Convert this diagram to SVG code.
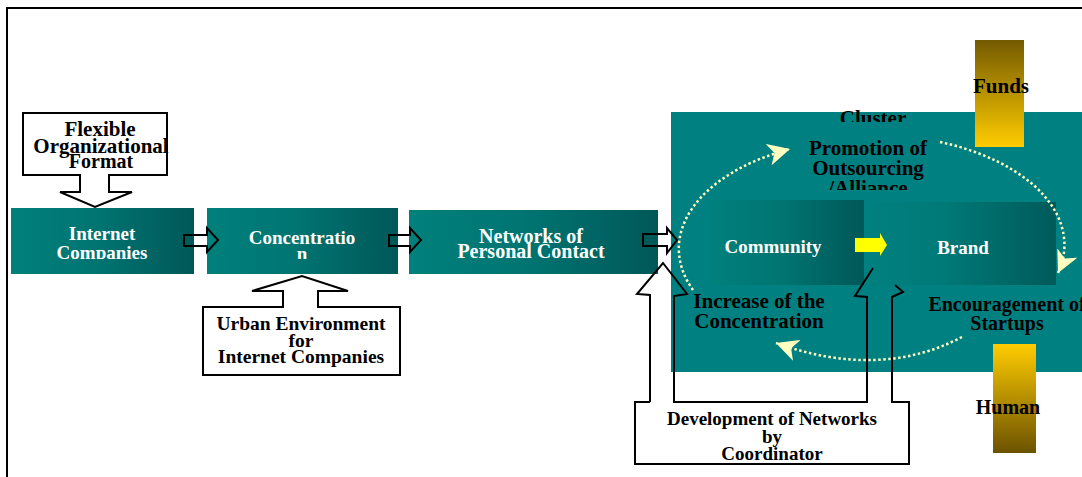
<svg xmlns="http://www.w3.org/2000/svg" width="1082" height="477" viewBox="0 0 1082 477">
<style>
.t{font-family:"Liberation Serif","Times New Roman",serif;font-weight:bold;text-anchor:middle;fill:#000}
.w{fill:#fff}
.ol{fill:none;stroke:#000;stroke-width:2;stroke-linejoin:miter}
.wb{fill:#fff;stroke:#000;stroke-width:2}
.dot{fill:none;stroke:#ffffc0;stroke-width:2.5;stroke-dasharray:2.5 2.5}
</style>
<defs>
<linearGradient id="bg" x1="0" y1="0" x2="1" y2="0">
<stop offset="0" stop-color="#00807c"/><stop offset="0.45" stop-color="#007572"/><stop offset="1" stop-color="#005858"/>
</linearGradient>
<linearGradient id="bg2" x1="0" y1="0" x2="1" y2="0">
<stop offset="0" stop-color="#008080"/><stop offset="0.4" stop-color="#007a78"/><stop offset="1" stop-color="#005a5a"/>
</linearGradient>
<linearGradient id="fund" x1="0" y1="0" x2="0" y2="1">
<stop offset="0" stop-color="#735a00"/><stop offset="1" stop-color="#ffcc00"/>
</linearGradient>
<linearGradient id="hum" x1="0" y1="0" x2="0" y2="1">
<stop offset="0" stop-color="#ffcc00"/><stop offset="1" stop-color="#6b5200"/>
</linearGradient>
<marker id="ah" markerUnits="userSpaceOnUse" viewBox="0 0 24 22" markerWidth="24" markerHeight="22" refX="22" refY="11" orient="auto">
<path d="M0,0 L22,11 L0,22 L6,11 Z" fill="#ffffc0"/>
</marker>
<clipPath id="c1"><rect x="0" y="200" width="200" height="59"/></clipPath>
<clipPath id="c2"><rect x="200" y="200" width="200" height="59"/></clipPath>
<clipPath id="c3"><rect x="780" y="100" width="200" height="22"/></clipPath>
<clipPath id="c4"><rect x="780" y="130" width="200" height="60"/></clipPath>
</defs>

<path d="M7,477 V8 H1082" fill="none" stroke="#000" stroke-width="2"/>

<g id="flexible">
<path class="wb" d="M23,113 H167 V175 H109 V192 H132 L95,207 L60,192 H80 V175 H23 Z"/>
<text class="t" x="100" y="136" font-size="21">Flexible</text>
<text class="t" x="101" y="153" font-size="21">Organizational</text>
<text class="t" x="101" y="168" font-size="20">Format</text>
</g>

<g id="internet">
<rect x="11" y="208" width="183" height="66" fill="url(#bg)"/>
<g clip-path="url(#c1)">
<text class="t w" x="102" y="240" font-size="19">Internet</text>
<text class="t w" x="102" y="259" font-size="19">Companies</text>
</g>
</g>

<g id="concentration">
<rect x="207" y="208" width="191" height="66" fill="url(#bg)"/>
<g clip-path="url(#c2)">
<text class="t w" x="302" y="244" font-size="19">Concentratio</text>
<text class="t w" x="302" y="260" font-size="19">n</text>
</g>
</g>

<g id="networks">
<rect x="409" y="210" width="249" height="64" fill="url(#bg)"/>
<text class="t w" x="531" y="243" font-size="20">Networks of</text>
<text class="t w" x="531" y="258" font-size="20">Personal Contact</text>
</g>

<g id="urban">
<path class="wb" d="M203,307 H283 V291 H252 L302,276 L348,291 H318 V307 H400 V375 H203 Z"/>
<text class="t" x="301" y="330" font-size="19.5">Urban Environment</text>
<text class="t" x="301" y="347" font-size="19.5">for</text>
<text class="t" x="301" y="363" font-size="19.5">Internet Companies</text>
</g>

<g id="cluster">
<rect x="671" y="112" width="411" height="260" fill="#008080"/>
<g clip-path="url(#c3)"><text class="t" x="873" y="125" font-size="21">Cluster</text></g>
</g>

<g id="community">
<rect x="711" y="200" width="153" height="85" fill="url(#bg)"/>
<text class="t w" x="773" y="253" font-size="19">Community</text>
</g>

<g id="brand">
<rect x="864" y="202" width="192" height="83" fill="url(#bg2)"/>
<text class="t w" x="963" y="254" font-size="19">Brand</text>
</g>

<g id="connectors">
<path class="ol" d="M184,235 H207 V228 L218,240 L207,252 V246 H184 Z"/>
<path class="ol" d="M389,235 H410 V228 L421,240 L410,252 V246 H389 Z"/>
<path class="ol" d="M643,234 H667 V228 L677,240 L667,253 V246 H643 Z"/>
<path class="dot" d="M693,290 A193,110 0 0 1 790,149" marker-end="url(#ah)"/>
<path class="dot" d="M940,142 A193,110 0 0 1 1058,273" marker-end="url(#ah)"/>
<path class="dot" d="M962,337 Q880,380 776,343" marker-end="url(#ah)"/>
<path d="M855,238 H880 V233 L887,245 L880,256 V252 H855 Z" fill="#ffff00"/>
</g>

<g id="promotion">
<text class="t" x="868" y="155" font-size="21">Promotion of</text>
<text class="t" x="868" y="175" font-size="21">Outsourcing</text>
<g clip-path="url(#c4)"><text class="t" x="868" y="195" font-size="21">/Alliance</text></g>
</g>

<g id="increase">
<text class="t" x="759" y="308" font-size="21">Increase of the</text>
<text class="t" x="759" y="328" font-size="21">Concentration</text>
</g>

<g id="encouragement">
<text class="t" x="1007" y="311" font-size="20">Encouragement of</text>
<text class="t" x="1007" y="330" font-size="20">Startups</text>
</g>

<g id="coordinator">
<path class="ol" d="M650,402 V295 L637,294 L663,263 L687,294 L674,296 V402 H867 V297 L855,296 L873,268 M895,285 L903,292 L892,297 V402 H909 V464 H635 V402 H650"/>
<text class="t" x="772" y="425" font-size="19">Development of Networks</text>
<text class="t" x="772" y="443" font-size="19">by</text>
<text class="t" x="772" y="460" font-size="19">Coordinator</text>
</g>

<g id="funds">
<rect x="975" y="40" width="49" height="107" fill="url(#fund)"/>
<text class="t" x="1001" y="93" font-size="21">Funds</text>
</g>

<g id="human">
<rect x="993" y="344" width="43" height="109" fill="url(#hum)"/>
<text class="t" x="1008" y="414" font-size="20">Human</text>
</g>
</svg>
